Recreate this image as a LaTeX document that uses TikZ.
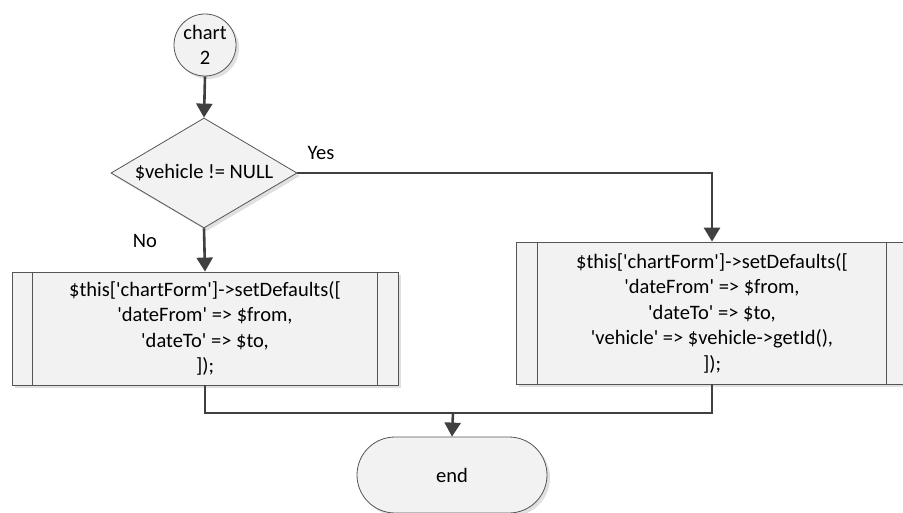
\documentclass[tikz,border=0pt]{standalone}
\usepackage{fontspec}
\setmainfont{Carlito}[Ligatures=TeXOff]
\usetikzlibrary{shapes.geometric,arrows.meta,shadows}
\definecolor{linegray}{HTML}{404040}
\definecolor{edgegray}{HTML}{555555}
\definecolor{boxfill}{HTML}{F2F2F2}
\tikzset{
  x=1pt, y=-1pt,
  every node/.style={font=\fontsize{20.5}{25.5}\selectfont, text=black},
  boxshadow/.style={drop shadow={shadow xshift=3pt, shadow yshift=-3pt, fill=black!12, opacity=1}},
  shapebox/.style={draw=edgegray, line width=0.8pt, fill=boxfill, boxshadow},
  terminal/.style={shapebox, circle, minimum size=62pt, inner sep=0pt, align=center},
  decision/.style={shapebox, diamond, minimum width=186pt, minimum height=110pt, inner sep=0pt},
  process/.style={shapebox, rectangle, inner sep=0pt, align=center},
  endcap/.style={shapebox, rectangle, rounded corners=38pt, minimum width=190pt, minimum height=76pt},
  flow/.style={draw=linegray, line width=2.6pt},
  flowarrow/.style={flow, -{Triangle[width=16pt,length=14pt]}},
  tag/.style={font=\fontsize{20.5}{25.5}\selectfont}
}
\begin{document}
\begin{tikzpicture}
\useasboundingbox (0,0) rectangle (903,513);

% start connector
\node[terminal] (start) at (205,45) {chart\\2};

% decision
\node[decision] (dec) at (204,173) {};
\node at (dec) {\$vehicle != NULL};

% process boxes with side bars
\node[process, minimum width=386pt, minimum height=113pt] (lbox) at (205,328.5) {};
\draw[edgegray, line width=0.8pt] ([xshift=21pt]lbox.north west) -- ([xshift=21pt]lbox.south west)
  ([xshift=-21pt]lbox.north east) -- ([xshift=-21pt]lbox.south east);
\node[align=center] at (lbox) {\$this['chartForm']->setDefaults([\\
  'dateFrom' => \$from,\\
  'dateTo' => \$to,\\
  ]);};

\node[process, minimum width=392pt, minimum height=142pt] (rbox) at (712,313) {};
\draw[edgegray, line width=0.8pt] ([xshift=22pt]rbox.north west) -- ([xshift=22pt]rbox.south west)
  ([xshift=-22pt]rbox.north east) -- ([xshift=-22pt]rbox.south east);
\node[align=center] at (rbox) {\$this['chartForm']->setDefaults([\\
  'dateFrom' => \$from,\\
  'dateTo' => \$to,\\
  'vehicle' => \$vehicle->getId(),\\
  ]);};

% end terminal
\node[endcap] (end) at (452,475) {end};

% connectors
\coordinate (merge) at (453,413);
\draw[flowarrow] (start.south) -- (dec.north);
\draw[flowarrow] (dec.east) -| (rbox.north);
\draw[flowarrow] (dec.south) -- (lbox.north);
\draw[flow] (lbox.south) |- (rbox.south |- merge) -- (rbox.south);
\draw[flowarrow] (merge) -- (end.north);

% branch labels
\node[tag] (yes) at (321,153) {Yes};
\node[tag] (no) at (145,241) {No};
\end{tikzpicture}
\end{document}
